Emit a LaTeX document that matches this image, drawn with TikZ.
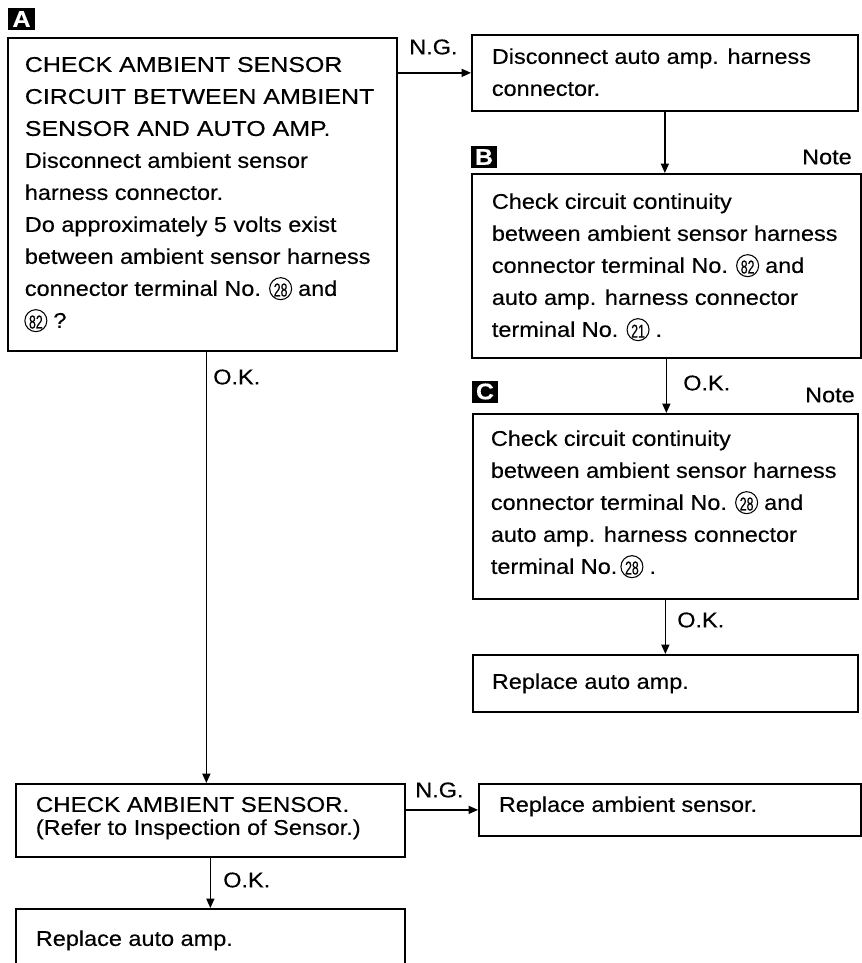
\documentclass[tikz,border=0pt]{standalone}
\usepackage{fontspec}
\setmainfont{Liberation Sans}[FakeStretch=1.1,FakeBold=0.35]
\newfontfamily\capsf{Liberation Sans}[FakeStretch=1.17,FakeBold=0.35]
\newfontfamily\capsfb{Liberation Sans}[FakeStretch=1.13,FakeBold=0.35]
\usepackage{graphicx}
\usepackage{pict2e}
\usetikzlibrary{arrows.meta}
\newdimen\px \px=0.75pt
\newcommand\cnum[1]{\mbox{\setlength{\unitlength}{1pt}\linethickness{0.8pt}\begin{picture}(16.5,10)\put(8.25,5.4){\circle{16.5}}\put(8.25,-0.6){\makebox(0,0)[b]{\fontsize{14}{14}\selectfont\scalebox{0.6}[1]{#1}}}\end{picture}}}
\newcommand\bxt[5]{\parbox[c][#1\px][t]{#2\px}{\leftskip=#3\px\rightskip=0pt plus 1fil\parindent=0pt\parfillskip=0pt plus 1fil\vspace*{\dimexpr#4\px-\ht\strutbox\relax}\strut #5}}
\tikzset{
  bx/.style={draw, line width=1.3pt, inner sep=0pt, anchor=north west, font=\fontsize{16}{24}\selectfont},
  bxs/.style={bx, font=\fontsize{16}{17.25}\selectfont},
  arr/.style={-{Triangle[length=7pt,width=6pt]}, line width=1pt},
  lbl/.style={font=\fontsize{16}{16}\selectfont, inner sep=0pt},
  tag/.style={fill=black, text=white, font=\bfseries\fontsize{17}{17}\selectfont, inner sep=0pt, minimum width=20pt, minimum height=16.5pt}
}
\begin{document}
\begin{tikzpicture}[x=0.75pt,y=-0.75pt]
\useasboundingbox (0,0) rectangle (862,963);
% markers
\node[tag] (tA) at (21.5,19) {A};
\node[tag] (tB) at (484,157) {B};
\node[tag] (tC) at (485,391.5) {C};
% boxes
\node[bx] (A) at (7,37) {\bxt{313}{389}{17}{34}{{\capsf CHECK AMBIENT SENSOR\\CIRCUIT BETWEEN AMBIENT\\SENSOR AND AUTO AMP.}\\Disconnect ambient sensor\\harness connector.\\Do approximately 5 volts exist\\between ambient sensor harness\\connector terminal No. \cnum{28} and\\\cnum{82} ?}};
\node[bx] (D) at (471,34) {\bxt{76}{386}{20}{29}{Disconnect auto amp. harness\\connector.}};
\node[bx] (B) at (471,173) {\bxt{184}{389}{20}{35}{Check circuit continuity\\between ambient sensor harness\\connector terminal No. \cnum{82} and\\auto amp. harness connector\\terminal No. \cnum{21} .}};
\node[bx] (C) at (472,413) {\bxt{185}{385}{18}{32}{Check circuit continuity\\between ambient sensor harness\\connector terminal No. \cnum{28} and\\auto amp. harness connector\\terminal No.\,\cnum{28} .}};
\node[bx] (E) at (472,654) {\bxt{57}{385}{19}{34}{Replace auto amp.}};
\node[bxs] (F) at (15,783) {\bxt{73}{389}{20}{28}{{\capsfb CHECK AMBIENT SENSOR.}\\(Refer to Inspection of Sensor.)}};
\node[bxs] (G) at (478,783) {\bxt{52}{382}{20}{28}{Replace ambient sensor.}};
\node[bxs] (H) at (15,908) {\bxt{80}{389}{20}{37}{Replace auto amp.}};
% labels
\node[lbl, anchor=west] (ng1) at (409,47) {N.G.};
\node[lbl, anchor=west] (ok1) at (213,377) {O.K.};
\node[lbl, anchor=east] (noteB) at (852,157) {Note};
\node[lbl, anchor=west] (ok2) at (683,383) {O.K.};
\node[lbl, anchor=east] (noteC) at (855,395) {Note};
\node[lbl, anchor=west] (ok3) at (677,620) {O.K.};
\node[lbl, anchor=west] (ng2) at (415,790) {N.G.};
\node[lbl, anchor=west] (ok4) at (223,880) {O.K.};
% connectors
\draw[arr] (D.west -| A.east) -- (D.west);
\draw[arr] (D.south) -- (D.south |- B.north);
\draw[arr] (B.south) -- (B.south |- C.north);
\draw[arr] (C.south) -- (C.south |- E.north);
\draw[arr] ([xshift=3pt]A.south) -- ([xshift=3pt]A.south |- F.north);
\draw[arr] (G.west -| F.east) -- (G.west);
\draw[arr] (F.south) -- (F.south |- H.north);
\end{tikzpicture}
\end{document}
